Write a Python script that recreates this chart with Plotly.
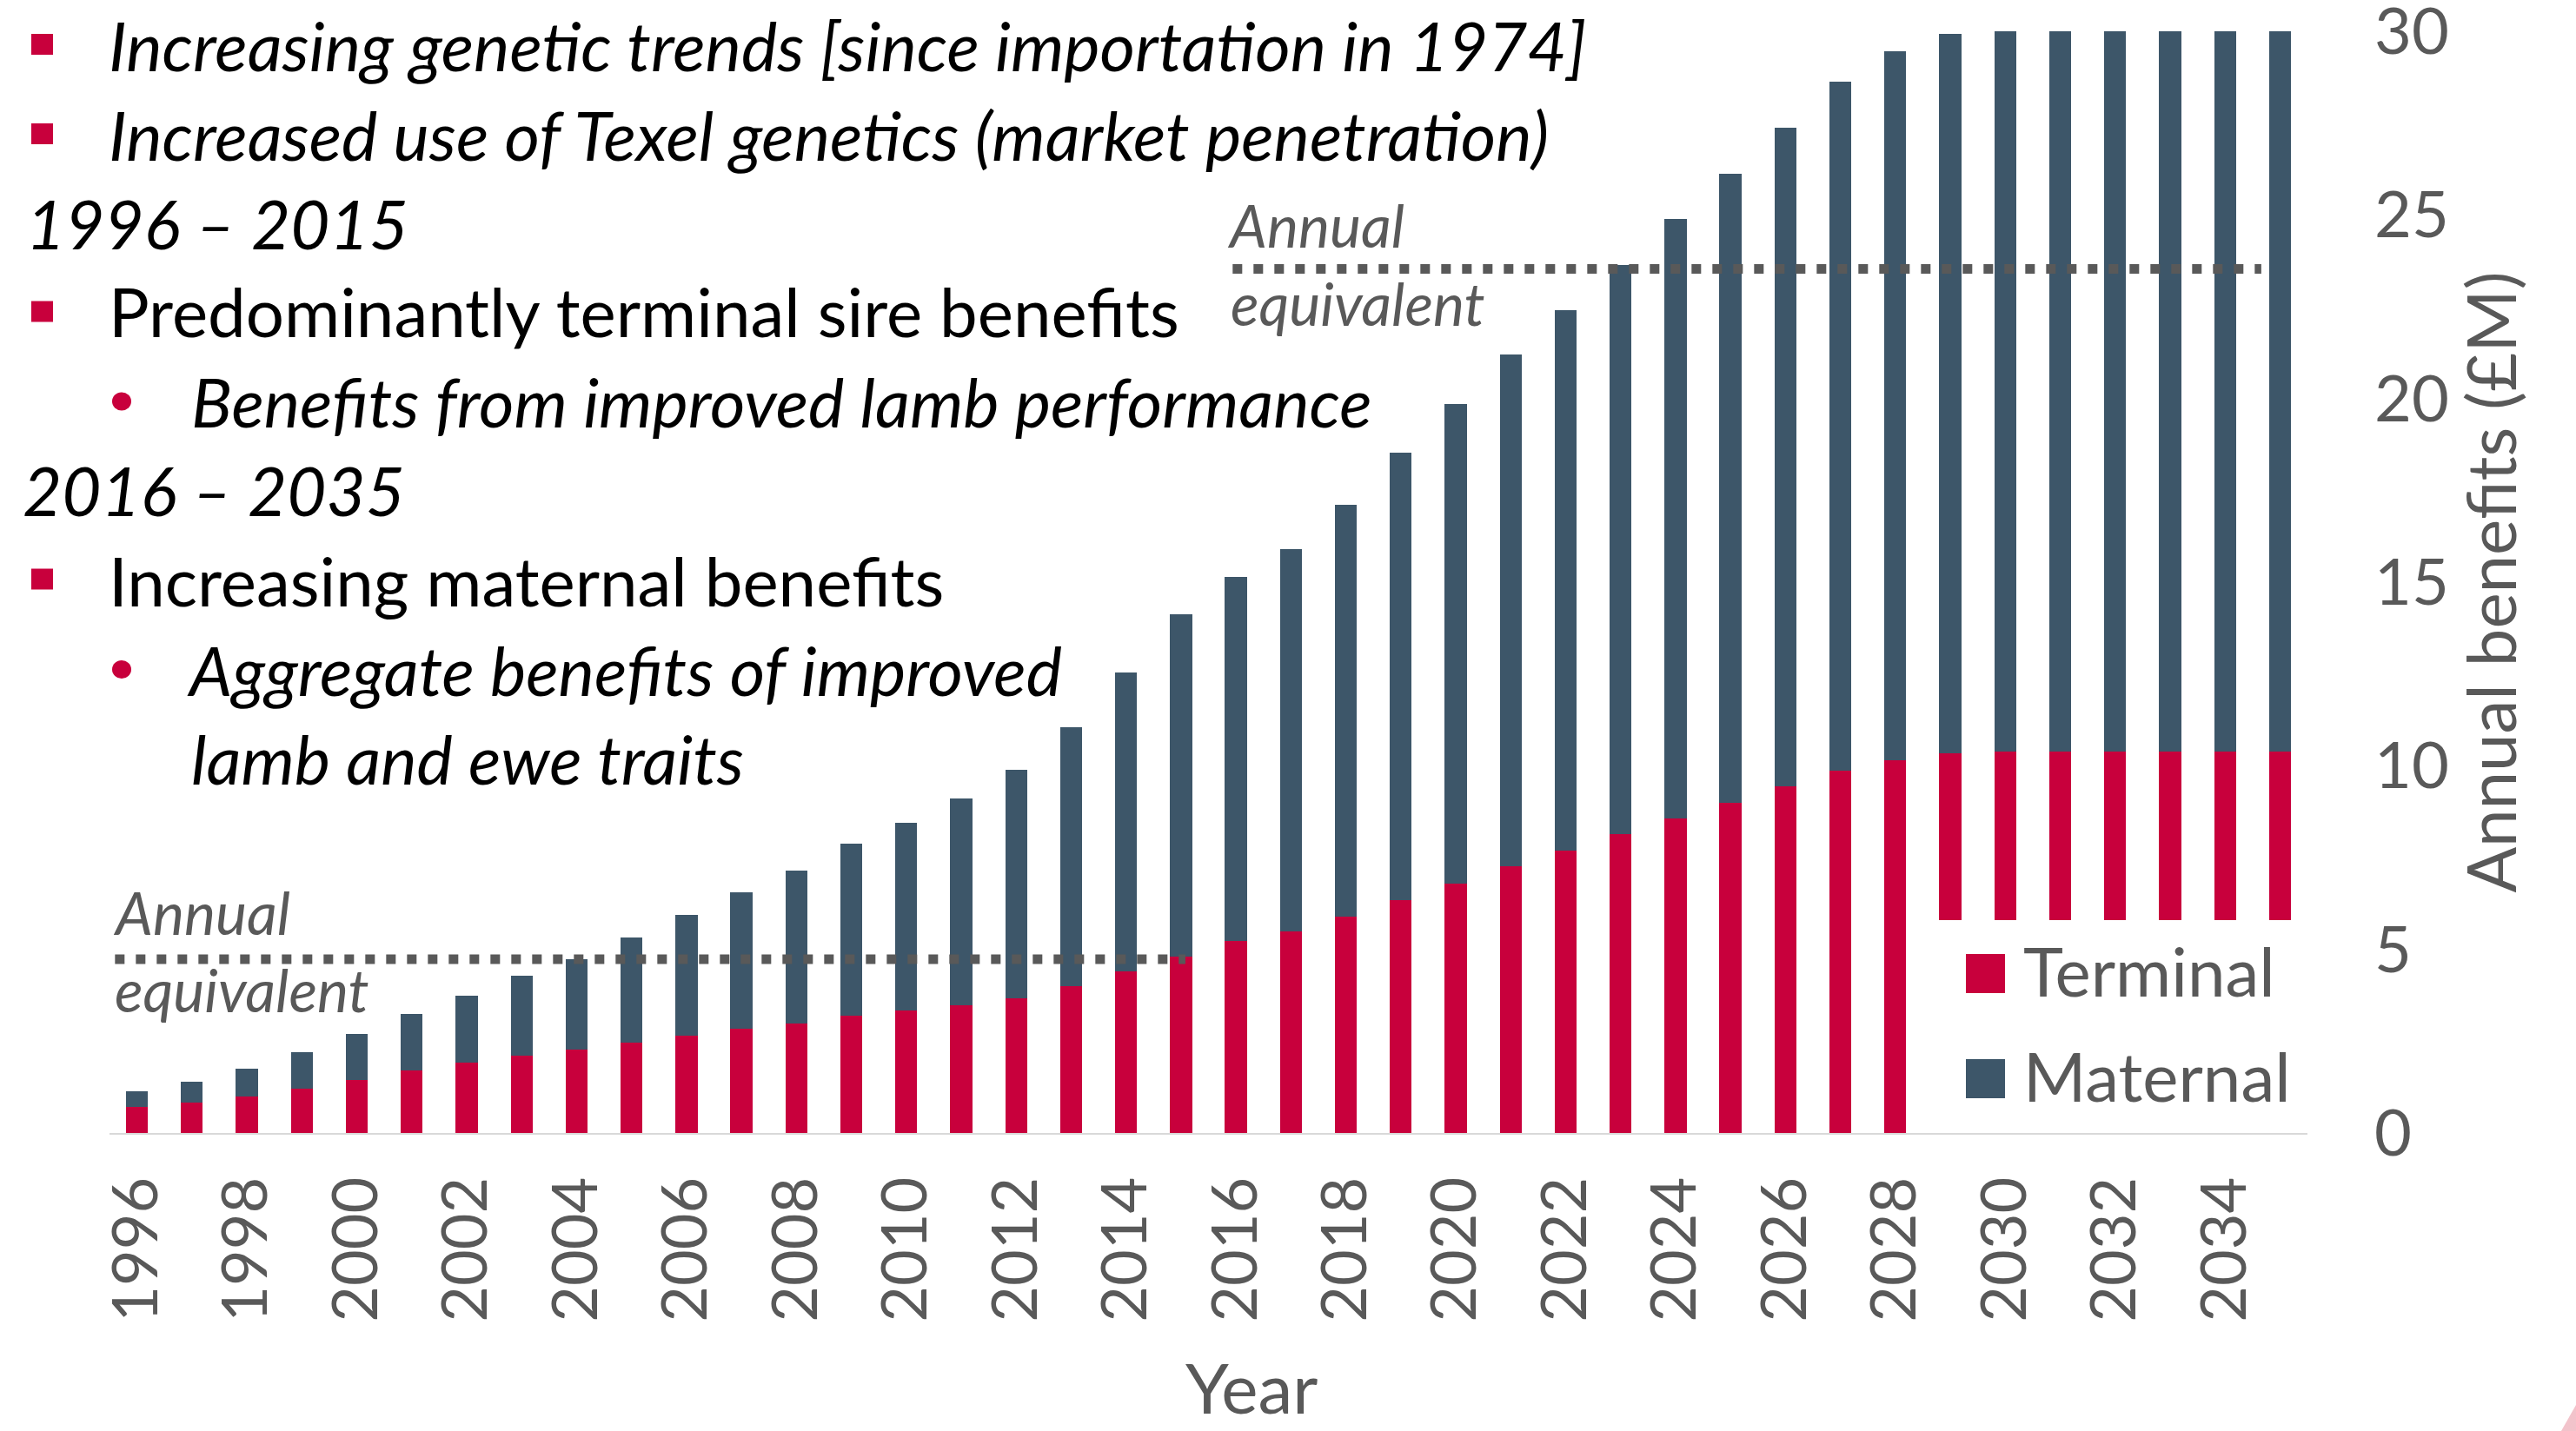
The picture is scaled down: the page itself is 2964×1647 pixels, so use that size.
import plotly.graph_objects as go

# ---------------- data ----------------
years = list(range(1996, 2036))
terminal = [0.70, 0.82, 1.00, 1.21, 1.45, 1.70, 1.92, 2.11, 2.26, 2.45,
            2.64, 2.83, 2.99, 3.19, 3.33, 3.47, 3.66, 3.99, 4.39, 4.80,
            5.22, 5.50, 5.88, 6.34, 6.79, 7.26, 7.69, 8.13, 8.56, 9.00,
            9.43, 9.87, 10.16, 10.33, 10.39, 10.39, 10.39, 10.39, 10.39, 10.39]
maternal = [0.43, 0.57, 0.75, 0.99, 1.24, 1.53, 1.83, 2.17, 2.47, 2.87,
            3.30, 3.73, 4.15, 4.69, 5.11, 5.63, 6.24, 7.07, 8.14, 9.32,
            9.92, 10.41, 11.23, 12.18, 13.06, 13.93, 14.71, 15.50, 16.32, 17.13,
            17.95, 18.75, 19.29, 19.59, 19.61, 19.61, 19.61, 19.61, 19.61, 19.61]
annual_equiv_values = [4.73, 23.53]
annual_equiv_spans = [(1995.6, 2015.08), (2015.94, 2034.66)]
tick_years = list(range(1996, 2035, 2))
tick_labels = [str(y) for y in tick_years]
series_names = ["Terminal", "Maternal"]

RED = "#C8003C"
BLUE = "#3D5669"
GREY = "#595959"
FONT = "Lato, 'Open Sans', sans-serif"

W, H = 2964, 1647
L, R, T, B = 126, 2655, 36, 1304


def px(x):
    return (x - L) / (R - L)


def py(y):
    return (B - y) / (B - T)


fig = go.Figure()
fig.add_trace(go.Bar(x=years, y=terminal, name=series_names[0],
                     marker=dict(color=RED, line=dict(width=0)), showlegend=False))
fig.add_trace(go.Bar(x=years, y=maternal, name=series_names[1],
                     marker=dict(color=BLUE, line=dict(width=0)), showlegend=False))

for val, (x0, x1) in zip(annual_equiv_values, annual_equiv_spans):
    fig.add_trace(go.Scatter(x=[x0, x1], y=[val, val], mode="lines",
                             line=dict(color=GREY, width=11, dash="11px,13px"),
                             showlegend=False, hoverinfo="skip"))

annotations = []


def text(s, x, base, size, color="black", anchor="left"):
    annotations.append(dict(
        text=s, xref="paper", yref="paper", x=px(x), y=py(base - 0.387 * size),
        xanchor=anchor, yanchor="middle", showarrow=False,
        font=dict(family=FONT, size=size, color=color)))


IT = 78
RG = 78
lines = [
    ("<i>Increasing genetic trends [since importation in 1974]</i>", 123, 82, IT),
    ("<i>Increased use of Texel genetics (market penetration)</i>", 123, 185, IT),
    ("<i>1996 – 2015</i>", 28, 287, IT),
    ("Predominantly terminal sire benefits", 123, 388, RG),
    ("<i>Benefits from improved lamb performance</i>", 218, 492, IT),
    ("<i>2016 – 2035</i>", 24, 594, IT),
    ("Increasing maternal benefits", 123, 698, RG),
    ("<i>Aggregate benefits of improved</i>", 213, 801, IT),
    ("<i>lamb and ewe traits</i>", 218, 903, IT),
]
for s, x, b, sz in lines:
    text(s, x, b, sz)

# annual equivalent labels
AE = 68
text("<i>Annual</i>", 1410, 285, AE, GREY)
text("<i>equivalent</i>", 1414, 375, AE, GREY)
text("<i>Annual</i>", 128, 1076, AE, GREY)
text("<i>equivalent</i>", 130, 1165, AE, GREY)

# legend text
text(series_names[0], 2326, 1147, 78, GREY)
text(series_names[1], 2326, 1268, 78, GREY)

# x axis title
text("Year", 1440, 1627, 80, GREY, anchor="center")

shapes = []
# bullets (squares)
for cy in [51, 154, 358.5, 666.5]:
    shapes.append(dict(type="rect", xref="paper", yref="paper",
                       x0=px(36), x1=px(61), y0=py(cy - 12), y1=py(cy + 12),
                       fillcolor=RED, line=dict(width=0)))
# bullets (dots)
for cy in [462, 770.5]:
    shapes.append(dict(type="circle", xref="paper", yref="paper",
                       x0=px(129), x1=px(151), y0=py(cy - 10.5), y1=py(cy + 10.5),
                       fillcolor=RED, line=dict(width=0)))
# legend box
shapes.append(dict(type="rect", xref="paper", yref="paper", layer="above",
                   x0=px(2212), x1=1.0, y0=0, y1=py(1059),
                   fillcolor="white", line=dict(width=0)))
shapes.append(dict(type="rect", xref="paper", yref="paper", layer="above",
                   x0=px(2262), x1=px(2307), y0=py(1143), y1=py(1098),
                   fillcolor=RED, line=dict(width=0)))
shapes.append(dict(type="rect", xref="paper", yref="paper", layer="above",
                   x0=px(2262), x1=px(2307), y0=py(1264), y1=py(1219),
                   fillcolor=BLUE, line=dict(width=0)))
# small decorative corner wedge (slide background)
shapes.append(dict(type="path", xref="paper", yref="paper", layer="above",
                   path="M {:.5f},{:.5f} L {:.5f},{:.5f} L {:.5f},{:.5f} Z".format(
                       px(2947), py(1647), px(2964), py(1647), px(2964), py(1617)),
                   fillcolor="#F2C3CB", line=dict(width=0)))

fig.update_layout(
    width=W, height=H, autosize=False,
    margin=dict(l=L, r=W - R, t=T, b=H - B, pad=0, autoexpand=False),
    paper_bgcolor="white", plot_bgcolor="white",
    barmode="stack", bargap=0.6,
    font=dict(family=FONT, color=GREY),
    annotations=annotations, shapes=shapes,
    xaxis=dict(range=[1995.5, 2035.5], tickmode="array", tickvals=tick_years,
               ticktext=tick_labels, tickangle=-90, ticks="",
               tickfont=dict(family=FONT, size=72, color=GREY),
               ticklabelstandoff=20, automargin=False, ticklabeloverflow="allow",
               showgrid=False, zeroline=False, showline=True,
               linecolor="#D9D9D9", linewidth=2),
    yaxis=dict(range=[0, 30], side="right", tickvals=[0, 5, 10, 15, 20, 25, 30],
               ticks="", tickfont=dict(family=FONT, size=74, color=GREY),
               ticklabelstandoff=76, automargin=False, ticklabeloverflow="allow",
               showgrid=False, zeroline=False, showline=False,
               title=dict(text="Annual benefits (£M)", standoff=0,
                          font=dict(family=FONT, size=78, color=GREY))),
)

fig.write_html("out.html", config={"displayModeBar": False},
               post_script="document.body.style.margin='0';document.body.style.overflow='hidden';")
